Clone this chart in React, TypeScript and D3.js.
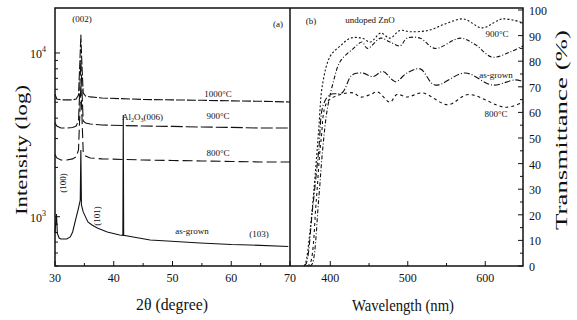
import React from "react";
import * as d3 from "d3";

// ---- (a) XRD data ----
const angleAnneal = [30, 30.3, 31, 32, 33, 33.6, 34.0, 34.25, 34.4, 34.55, 34.8, 35.2, 36, 38, 45, 50, 55, 60, 65, 70];
const int1000 = [5600, 5240, 5170, 5170, 5170, 5240, 5540, 9060, 12900, 9060, 5700, 5460, 5390, 5310, 5200, 5170, 5140, 5100, 5070, 5020];
const int900 = [3750, 3580, 3480, 3480, 3510, 3580, 3840, 6380, 9060, 6380, 3840, 3740, 3680, 3630, 3580, 3560, 3530, 3510, 3480, 3480];
const int800 = [2400, 2285, 2220, 2220, 2255, 2320, 2557, 4490, 6380, 4490, 2485, 2350, 2285, 2255, 2220, 2205, 2190, 2175, 2160, 2160];

const angleAsGrown = [30, 30.25, 30.4, 30.7, 31, 32, 32.6, 33.0, 33.5, 34.0, 34.3, 34.4, 34.5, 34.8, 35.6, 36.3, 37.2, 38.9, 41.0, 41.55, 41.62, 41.69, 43.3, 46.2, 49.1, 54.7, 60, 63.2, 69.7];
const intAsGrown = [800, 1040, 790, 741, 731, 731, 752, 807, 955, 1130, 1265, 2557, 1180, 1070, 929, 890, 854, 807, 773, 770, 4180, 770, 752, 721, 711, 691, 676, 672, 658];

const angleTicks = [30, 40, 50, 60, 70];
const angleMinor = [35, 45, 55, 65];

// ---- (b) transmittance data ----
const lamUndoped = [366, 368, 374, 381, 385, 390, 400, 413, 426, 441, 452, 465, 477, 490, 503, 526, 548, 572, 596, 622, 649];
const tUndoped = [0, 1, 14, 37.5, 53, 71, 82, 86, 89, 89, 87.5, 91, 89, 92, 91.5, 92, 94.5, 96.5, 93, 96.5, 95];
const lam900 = [374, 377, 385, 390, 396, 404, 413, 430, 441, 448, 465, 477, 490, 499, 516, 535, 568, 587, 609, 632, 649];
const t900 = [0, 1, 26, 45, 61, 72, 80, 85, 87.5, 85, 89, 87.5, 86, 89, 89, 85, 89, 86.5, 81.6, 83.6, 86];
const lamAsGrown = [366, 369, 377, 385, 391, 400, 415, 428, 441, 455, 468, 484, 499, 516, 535, 574, 609, 639, 649];
const tAsGrown = [0, 1, 22, 45, 63, 67, 67.6, 74.6, 75.4, 74, 76, 72, 75.4, 77, 70.7, 75.4, 70.7, 72.7, 72];
const lam800 = [370, 374, 382, 388, 396, 413, 430, 439, 452, 461, 477, 486, 499, 519, 552, 578, 626, 649];
const t800 = [0, 1, 26, 49, 64, 67, 67.6, 66, 67, 68, 64, 67, 66, 67.6, 63, 67, 62, 64];

const lamTicks = [400, 500, 600];
const lamMinor = [450, 550];
const tTicks = [0, 10, 20, 30, 40, 50, 60, 70, 80, 90, 100];

const left = 55, mid = 290, right = 523, top = 8, bottom = 266;
const font = "'Liberation Serif', 'DejaVu Serif', serif";

export default function App() {
  const xA = d3.scaleLinear().domain([30, 70]).range([left, mid]);
  const yA = d3.scaleLog().domain([500, 18300]).range([bottom, 10]);
  const xB = d3.scaleLinear().domain([348, 650]).range([mid, right + 1]);
  const yB = d3.scaleLinear().domain([0, 100]).range([bottom, 10]);

  const lineA = (xs: number[], ys: number[]) =>
    d3.line<number>().x((d, i) => xA(xs[i])).y((d) => yA(d))(ys) || "";
  const lineB = (xs: number[], ys: number[]) =>
    d3.line<number>().x((d, i) => xB(xs[i])).y((d) => yB(d)).curve(d3.curveCatmullRom)(ys) || "";

  const logMinor: number[] = [];
  [100, 1000, 10000].forEach((b) => {
    for (let k = 2; k <= 9; k++) if (b * k >= 500 && b * k <= 18300) logMinor.push(b * k);
  });
  const tMinor = d3.range(5, 100, 10);

  const ink = "#111";
  return (
    <svg
      width={577}
      height={320}
      style={{ position: "absolute", left: 0, top: 0, display: "block", fontFamily: font, background: "#fff" }}
    >
      {/* curves panel (a) */}
      <g fill="none" stroke={ink} strokeWidth={1.1}>
        <path d={lineA(angleAnneal, int1000)} strokeDasharray="9,2" />
        <path d={lineA(angleAnneal, int900)} strokeDasharray="12,3" />
        <path d={lineA(angleAnneal, int800)} strokeDasharray="10,4" />
        <path d={lineA(angleAsGrown, intAsGrown)} />
      </g>
      {/* curves panel (b) */}
      <g fill="none" stroke={ink} strokeWidth={1.1}>
        <path d={lineB(lamUndoped, tUndoped)} strokeDasharray="2,2" />
        <path d={lineB(lam900, t900)} strokeDasharray="4,2,1,2" />
        <path d={lineB(lamAsGrown, tAsGrown)} strokeDasharray="6,2,1,2" />
        <path d={lineB(lam800, t800)} strokeDasharray="3,3" />
      </g>

      {/* frame */}
      <g fill="none" stroke={ink} strokeWidth={1.5}>
        <rect x={left} y={top} width={right - left} height={bottom - top} />
        <line x1={mid} x2={mid} y1={top} y2={bottom} />
      </g>

      {/* ticks */}
      <g stroke={ink} strokeWidth={1}>
        {angleTicks.map((t) => <line key={"a" + t} x1={xA(t)} x2={xA(t)} y1={bottom} y2={bottom - 5} />)}
        {angleMinor.map((t) => <line key={"am" + t} x1={xA(t)} x2={xA(t)} y1={bottom} y2={bottom - 3} />)}
        {lamTicks.map((t) => <line key={"l" + t} x1={xB(t)} x2={xB(t)} y1={bottom} y2={bottom - 5} />)}
        {lamMinor.map((t) => <line key={"lm" + t} x1={xB(t)} x2={xB(t)} y1={bottom} y2={bottom - 3} />)}
        {[1000, 10000].map((t) => <line key={"y" + t} x1={left} x2={left + 5} y1={yA(t)} y2={yA(t)} />)}
        {logMinor.map((t) => <line key={"ym" + t} x1={left} x2={left + 3} y1={yA(t)} y2={yA(t)} />)}
        {tTicks.map((t) => <line key={"t" + t} x1={right} x2={right - 5} y1={yB(t)} y2={yB(t)} />)}
        {tMinor.map((t) => <line key={"tm" + t} x1={right} x2={right - 3} y1={yB(t)} y2={yB(t)} />)}
      </g>

      {/* tick labels */}
      <g fontSize={12} fill={ink}>
        {angleTicks.map((t) => (
          <text key={"al" + t} x={xA(t)} y={282} textAnchor="middle">{t}</text>
        ))}
        {lamTicks.map((t) => (
          <text key={"ll" + t} x={xB(t)} y={282} textAnchor="middle">{t}</text>
        ))}
        {tTicks.map((t) => (
          <text key={"tl" + t} x={529} y={yB(t) + 5}>{t}</text>
        ))}
        {[
          [1000, "3"],
          [10000, "4"],
        ].map(([v, e]) => (
          <text key={"yl" + v} x={46} y={yA(v as number) + 5} textAnchor="end">
            10<tspan fontSize={8} dy={-6}>{e}</tspan>
          </text>
        ))}
      </g>

      {/* axis titles */}
      <g fill={ink} fontSize={17}>
        <text x={172} y={310} textAnchor="middle" textLength={72} lengthAdjust="spacingAndGlyphs">2θ (degree)</text>
        <text x={403} y={311} textAnchor="middle" textLength={102} lengthAdjust="spacingAndGlyphs">Wavelength (nm)</text>
        <text transform="translate(27,150) rotate(-90)" textAnchor="middle" textLength={130} lengthAdjust="spacingAndGlyphs">Intensity (log)</text>
        <text transform="translate(567,130) rotate(-90)" textAnchor="middle" textLength={200} lengthAdjust="spacingAndGlyphs">Transmittance (%)</text>
      </g>

      {/* annotations */}
      <g fill={ink} fontSize={9}>
        <text x={82} y={22} textAnchor="middle">(002)</text>
        <text x={278} y={27} textAnchor="middle">(a)</text>
        <text x={218} y={97} textAnchor="middle">1000°C</text>
        <text x={218} y={119} textAnchor="middle">900°C</text>
        <text x={218} y={156} textAnchor="middle">800°C</text>
        <text x={122} y={120}>Al<tspan fontSize={6} dy={2}>2</tspan><tspan dy={-2}>O</tspan><tspan fontSize={6} dy={2}>3</tspan><tspan dy={-2}>(006)</tspan></text>
        <text x={192} y={234} textAnchor="middle">as-grown</text>
        <text x={259} y={237} textAnchor="middle">(103)</text>
        <text transform="translate(66,183) rotate(-90)" textAnchor="middle">(100)</text>
        <text transform="translate(100,216) rotate(-90)" textAnchor="middle">(101)</text>
        <text x={311} y={24} textAnchor="middle">(b)</text>
        <text x={370} y={23} textAnchor="middle">undoped ZnO</text>
        <text x={497} y={37} textAnchor="middle">900°C</text>
        <text x={496} y={78} textAnchor="middle">as-grown</text>
        <text x={496} y={117} textAnchor="middle">800°C</text>
      </g>
    </svg>
  );
}
